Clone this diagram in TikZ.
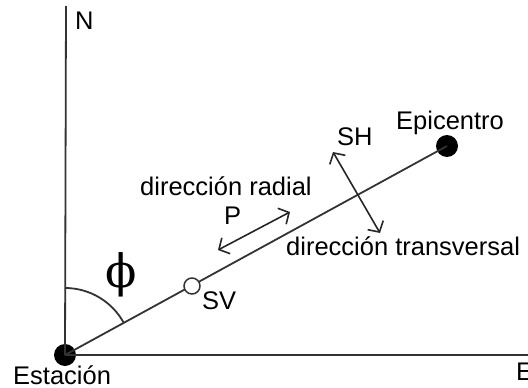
\documentclass[tikz,border=0pt]{standalone}
\usepackage{fontspec}
\setmainfont{Liberation Sans}
\newfontfamily\phifont{DejaVu Serif}
\usetikzlibrary{arrows.meta}
\begin{document}
\begin{tikzpicture}[x=1pt,y=-1pt,
  lbl/.style={inner sep=0pt, anchor=base west, font=\fontsize{25.5}{30}\selectfont, text=black},
  ln/.style={line width=1.8pt, draw=black!80},
  dbl/.style={line width=1.6pt, draw=black!85, {Straight Barb[length=8pt,width=18pt]}-{Straight Barb[length=8pt,width=18pt]}},
  dot/.style={circle, fill=black, minimum size=22pt, inner sep=0pt},
  ring/.style={circle, draw=black!80, line width=1.5pt, fill=white, minimum size=16pt, inner sep=0pt}]
\useasboundingbox (0,0) rectangle (528,388);
\coordinate (ntop) at (66,6);
\coordinate (eend) at (530,355);
\node[dot] (sta) at (65,355) {};
\node[dot] (epi) at (447,146) {};
\draw[ln] (sta.center) -- (ntop);
\draw[ln] (sta.center) -- (eend);
\draw[ln] (sta.center) -- (epi.center);
\draw[ln] (sta.center) ++(0,-67) arc[start angle=-90, end angle=-28.7, radius=67];
\node[ring] (sv) at (192,286) {};
\coordinate (p1) at (218,250);
\coordinate (p2) at (290,212);
\coordinate (s1) at (333,152);
\coordinate (s2) at (380,233);
\draw[dbl] (p1) -- (p2);
\draw[dbl] (s1) -- (s2);
\node[lbl] (n) at (75,30) {N};
\node[lbl] (rad) at (140,195) {dirección radial};
\node[lbl] (p) at (224,224) {P};
\node[lbl] (svl) at (202,309) {SV};
\node[lbl] (sh) at (337,145) {SH};
\node[lbl] (epl) at (396,129) {Epicentro};
\node[lbl] (tr) at (286,255) {dirección transversal};
\node[lbl] (est) at (13,384) {Estación};
\node[lbl] (e) at (516,380) {E};
\node[inner sep=0pt, font=\phifont\fontsize{46}{50}\selectfont] (phi) at (121,275) {ϕ};
\end{tikzpicture}
\end{document}
